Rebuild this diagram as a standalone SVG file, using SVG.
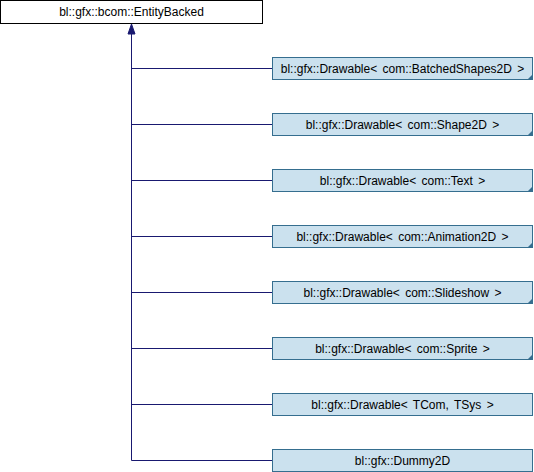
<svg xmlns="http://www.w3.org/2000/svg" width="534" height="472" viewBox="0 0 534 472">
<defs>
<style>
.n{fill:#cbe1ee;stroke:#356e8f;stroke-width:1}
.b{fill:#ffffff;stroke:#000000;stroke-width:1}
.t{font-family:"Liberation Sans",Arial,sans-serif;font-size:12px;word-spacing:2px;fill:#000;text-anchor:middle}
.e{fill:none;stroke:#191970;stroke-width:1}
.d{fill:#356e8f;stroke:none}
</style>
</defs>
<rect width="534" height="472" fill="#fff"/>
<g id="connectors">
<path class="e" d="M131.5,34 V460.5"/>
<path class="e" d="M131.5,68.5 H272.5 M131.5,124.5 H272.5 M131.5,180.5 H272.5 M131.5,236.5 H272.5 M131.5,292.5 H272.5 M131.5,348.5 H272.5 M131.5,404.5 H272.5 M131.5,460.5 H272.5"/>
<polygon points="131.5,24 128,34 135,34" fill="#191970" stroke="#191970"/>
</g>
<g id="EntityBacked">
<rect class="b" x="0.5" y="0.5" width="262" height="23"/>
<text class="t" x="131.5" y="16">bl::gfx::bcom::EntityBacked</text>
</g>
<g id="BatchedShapes2D">
<rect class="n" x="272.5" y="57.5" width="260" height="22"/>
<polygon class="d" points="533,74 533,80 527,80"/>
<text class="t" x="402.5" y="72.5">bl::gfx::Drawable&lt; com::BatchedShapes2D &gt;</text>
</g>
<g id="Shape2D">
<rect class="n" x="272.5" y="113.5" width="260" height="22"/>
<polygon class="d" points="533,130 533,136 527,136"/>
<text class="t" x="402.5" y="128.5">bl::gfx::Drawable&lt; com::Shape2D &gt;</text>
</g>
<g id="Text">
<rect class="n" x="272.5" y="169.5" width="260" height="22"/>
<polygon class="d" points="533,186 533,192 527,192"/>
<text class="t" x="402.5" y="184.5">bl::gfx::Drawable&lt; com::Text &gt;</text>
</g>
<g id="Animation2D">
<rect class="n" x="272.5" y="225.5" width="260" height="22"/>
<polygon class="d" points="533,242 533,248 527,248"/>
<text class="t" x="402.5" y="240.5">bl::gfx::Drawable&lt; com::Animation2D &gt;</text>
</g>
<g id="Slideshow">
<rect class="n" x="272.5" y="281.5" width="260" height="22"/>
<polygon class="d" points="533,298 533,304 527,304"/>
<text class="t" x="402.5" y="296.5">bl::gfx::Drawable&lt; com::Slideshow &gt;</text>
</g>
<g id="Sprite">
<rect class="n" x="272.5" y="337.5" width="260" height="22"/>
<polygon class="d" points="533,354 533,360 527,360"/>
<text class="t" x="402.5" y="352.5">bl::gfx::Drawable&lt; com::Sprite &gt;</text>
</g>
<g id="TComTSys">
<rect class="n" x="272.5" y="393.5" width="260" height="22"/>
<text class="t" x="402.5" y="408.5">bl::gfx::Drawable&lt; TCom, TSys &gt;</text>
</g>
<g id="Dummy2D">
<rect class="n" x="272.5" y="449.5" width="260" height="22"/>
<text class="t" x="402.5" y="464.5">bl::gfx::Dummy2D</text>
</g>
</svg>
